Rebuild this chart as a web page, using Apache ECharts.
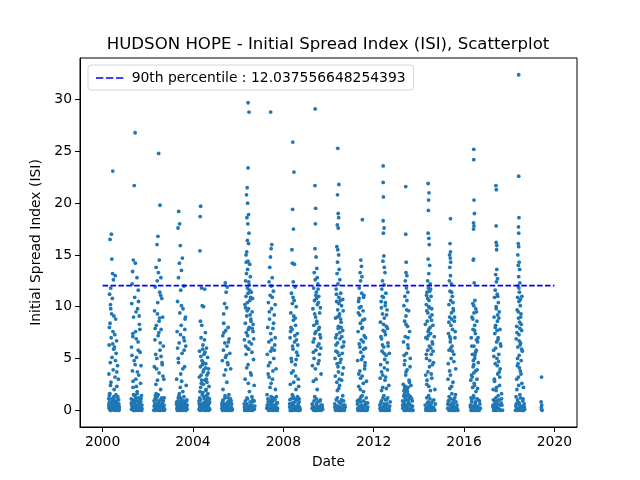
<!DOCTYPE html>
<html>
<head>
<meta charset="utf-8">
<script src="https://cdn.jsdelivr.net/npm/echarts@6/dist/echarts.min.js"></script>
<style>
  html, body { margin: 0; padding: 0; background: #fff; }
  #chart { width: 640px; height: 480px; }
</style>
</head>
<body>
<div id="chart"></div>
<script>
// ISI readings per fire season: [fraction of the year, ISI]
const y2000 = [[.45,23.1],[.39,17.0],[.33,16.5],[.41,14.6],[.44,13.2],[.56,13.0],[.48,12.6],[.36,11.8],[.31,11.2],[.43,10.8],[.35,10.2],[.40,9.3],[.50,9.1],[.58,8.8],[.30,8.0],[.46,7.6],[.54,7.3],[.38,7.0],[.62,6.7],[.29,6.3],[.49,5.9],[.60,5.5],[.42,5.1],[.34,4.6],[.66,4.3],[.47,3.9],[.28,3.5],[.55,3.2],[.70,3.0],[.37,2.7],[.63,2.3],[.51,2.0],[.32,1.6],[.67,1.3],[.27,1.1],[.44,0.9],[.57,0.7],[.72,0.6],[.35,0.5],[.52,0.4],[.74,0.3],[.29,0.2],[.61,0.1],[.40,0.05],[.68,0.0],[.53,0.0],[.31,0.8],[.71,1.0],[.46,0.3],[.64,0.2],[.59,1.5],[.36,9.8],[.53,6.1],[.28,0.6],[.38,0.0],[.49,1.2],[.65,0.5],[.33,0.1],[.42,0.4],[.73,0.1],[.56,0.9],[.30,1.4],
  [.28,0.4],[.34,0.0],[.37,0.7],[.41,1.1],[.44,0.2],[.47,0.6],[.50,1.3],[.54,0.3],[.58,0.0],[.62,0.8],[.66,1.2],[.69,0.4],[.72,0.0],[.31,1.6],[.39,0.3],[.52,0.9],[.60,0.5],[.35,2.4],[.57,4.8],[.45,6.4],[.33,8.4],[.63,3.7]];
const y2001 = [[.44,26.8],[.40,21.7],[.36,14.5],[.45,14.2],[.33,13.4],[.52,12.8],[.31,12.2],[.58,11.6],[.42,10.9],[.29,10.3],[.55,9.8],[.48,9.5],[.37,9.0],[.63,8.3],[.46,7.6],[.34,7.1],[.57,6.6],[.28,6.1],[.66,5.6],[.50,5.1],[.40,4.8],[.70,4.3],[.32,3.8],[.60,3.4],[.47,3.0],[.68,2.6],[.35,2.2],[.53,1.8],[.72,1.4],[.27,1.1],[.43,0.9],[.61,0.7],[.74,0.5],[.31,0.4],[.51,0.3],[.67,0.2],[.28,0.1],[.56,0.0],[.39,0.0],[.71,0.0],[.62,0.4],[.47,1.2],[.30,5.3],[.65,7.8],[.54,3.7],[.41,0.6],[.69,0.8],[.35,2.8],[.59,10.5],[.49,6.9],[.33,0.3],[.45,0.1],[.58,0.6],[.73,0.0],[.37,1.5],[.64,1.0],[.29,0.5],[.52,0.2],
  [.27,0.7],[.32,1.0],[.36,0.0],[.40,0.3],[.43,1.4],[.48,0.5],[.51,0.9],[.55,0.2],[.60,1.2],[.63,0.0],[.66,0.4],[.70,1.1],[.74,0.2],[.38,0.8],[.46,0.0],[.53,1.6],[.44,4.4],[.58,5.8],[.34,7.4],[.62,9.1],[.50,2.3]];
const y2002 = [[.48,24.8],[.54,19.8],[.45,16.8],[.41,16.0],[.51,14.5],[.37,13.8],[.47,13.3],[.58,12.8],[.42,12.5],[.33,11.9],[.53,11.4],[.62,10.8],[.44,10.4],[.30,9.6],[.66,9.0],[.50,8.6],[.38,8.2],[.59,7.8],[.46,7.2],[.32,6.8],[.69,6.2],[.54,5.8],[.40,5.0],[.63,4.6],[.29,4.2],[.50,3.6],[.71,3.0],[.36,2.5],[.57,2.0],[.46,1.5],[.73,1.2],[.28,0.9],[.64,0.7],[.41,0.5],[.52,0.3],[.33,0.2],[.74,0.1],[.68,0.0],[.47,0.0],[.27,0.0],[.60,0.4],[.38,1.0],[.55,6.5],[.43,9.3],[.67,3.3],[.49,7.5],[.35,5.4],[.72,0.5],[.57,11.1],[.39,4.0],[.31,0.6],[.44,0.2],[.61,1.1],[.50,0.1],[.70,0.3],[.34,1.4],[.56,0.0],
  [.28,0.4],[.32,1.1],[.35,0.0],[.39,0.6],[.42,1.3],[.45,0.3],[.49,0.8],[.53,0.0],[.58,0.5],[.62,1.2],[.65,0.2],[.69,0.9],[.73,0.0],[.37,1.6],[.47,0.6],[.55,1.0],[.43,2.9],[.59,5.2],[.33,7.9],[.52,8.9],[.64,4.4]];
const y2003 = [[.37,19.2],[.41,18.0],[.34,17.6],[.44,15.9],[.53,14.7],[.40,14.2],[.49,13.5],[.36,12.8],[.60,12.0],[.46,11.6],[.32,10.5],[.56,9.8],[.42,9.4],[.65,8.8],[.48,8.2],[.30,7.6],[.59,7.0],[.39,6.5],[.68,6.2],[.52,5.5],[.35,5.0],[.63,4.2],[.46,3.5],[.28,3.0],[.70,2.4],[.55,1.8],[.38,1.4],[.73,1.0],[.47,0.8],[.27,0.6],[.64,0.4],[.33,0.3],[.57,0.2],[.74,0.1],[.43,0.0],[.69,0.0],[.31,0.0],[.51,0.5],[.61,5.8],[.45,7.3],[.36,4.6],[.67,9.0],[.50,2.8],[.34,0.9],[.62,6.7],[.29,0.2],[.40,0.4],[.54,0.0],[.66,0.7],[.72,0.3],[.44,1.2],[.58,0.1],
  [.28,0.8],[.31,0.4],[.35,1.2],[.38,0.0],[.42,0.6],[.45,0.2],[.49,1.0],[.52,0.0],[.56,0.6],[.60,1.3],[.63,0.2],[.67,0.0],[.71,0.9],[.74,0.5],[.40,1.6],[.47,0.4],[.58,0.9],[.44,2.2],[.55,4.0],[.32,6.0],[.64,7.8],[.49,10.1]];
const y2004 = [[.34,19.7],[.32,18.7],[.31,15.4],[.38,11.8],[.52,11.7],[.41,10.1],[.47,10.0],[.33,8.6],[.39,8.2],[.55,7.5],[.36,7.0],[.44,6.3],[.60,6.0],[.29,5.7],[.49,5.4],[.65,5.1],[.40,4.8],[.57,4.5],[.33,4.2],[.69,4.0],[.45,3.7],[.62,3.4],[.28,3.2],[.53,2.9],[.37,2.6],[.71,2.3],[.58,2.0],[.31,1.8],[.66,1.6],[.48,1.3],[.73,1.1],[.27,0.9],[.55,0.8],[.38,0.6],[.68,0.5],[.50,0.4],[.30,0.3],[.61,0.2],[.74,0.1],[.35,0.0],[.54,0.0],[.70,0.0],[.43,5.9],[.59,3.0],[.34,2.2],[.63,1.0],[.51,6.8],[.42,4.4],[.30,1.2],[.67,3.6],[.57,0.6],[.27,0.1],[.46,2.5],[.72,0.7],[.39,0.2],[.64,0.3],[.32,0.5],[.49,0.0],[.60,1.4],[.44,1.7],[.56,4.1],[.36,3.4],
  [.28,0.6],[.31,0.0],[.34,1.0],[.37,0.4],[.41,1.5],[.44,0.1],[.47,0.7],[.51,1.1],[.54,0.3],[.58,0.9],[.61,0.0],[.64,0.6],[.67,1.2],[.71,0.2],[.74,0.8],[.39,2.9],[.48,3.9],[.53,5.6],[.62,2.7],[.45,4.6],[.35,5.2],[.57,1.9]];
const y2005 = [[.43,12.3],[.52,11.9],[.47,11.4],[.40,10.3],[.49,9.9],[.36,8.4],[.56,8.0],[.45,7.7],[.32,7.2],[.60,6.9],[.41,6.5],[.51,6.2],[.35,5.8],[.63,5.5],[.44,5.1],[.30,4.8],[.55,4.4],[.67,4.0],[.38,3.4],[.50,2.7],[.33,2.0],[.59,1.5],[.42,1.2],[.69,0.9],[.29,0.7],[.53,0.5],[.36,0.3],[.64,0.2],[.46,0.1],[.72,0.0],[.31,0.0],[.57,0.0],[.40,0.4],[.66,1.1],[.48,5.3],[.37,7.5],[.61,0.6],[.28,0.2],[.44,0.0],[.70,0.3],[.54,0.8],[.34,1.0],
  [.28,0.5],[.32,0.9],[.35,0.1],[.39,0.6],[.42,1.4],[.46,0.3],[.49,0.0],[.52,0.7],[.56,1.2],[.59,0.2],[.63,0.9],[.67,0.0],[.71,0.6],[.74,0.1],[.38,0.0],[.51,0.4],[.45,3.9],[.57,6.6],[.36,9.3],[.53,4.6]];
const y2006 = [[.44,29.7],[.48,28.8],[.44,23.4],[.40,21.5],[.37,20.8],[.42,20.0],[.46,18.9],[.39,18.6],[.43,18.0],[.48,17.1],[.41,16.4],[.46,16.1],[.38,15.3],[.35,15.0],[.44,14.4],[.36,14.3],[.51,14.1],[.42,13.6],[.37,13.2],[.54,12.9],[.33,12.5],[.49,12.1],[.41,11.8],[.58,11.4],[.35,11.0],[.52,10.6],[.30,10.2],[.46,9.8],[.62,9.5],[.38,9.1],[.56,8.8],[.32,8.4],[.49,8.0],[.66,7.6],[.42,7.2],[.28,6.8],[.59,6.4],[.47,5.9],[.35,5.4],[.68,4.9],[.44,4.4],[.55,3.6],[.31,3.0],[.71,2.4],[.50,1.8],[.39,1.2],[.63,0.8],[.34,0.5],[.53,0.3],[.72,0.1],[.43,0.0],[.29,0.0],[.60,0.0],[.40,9.6],[.51,11.6],[.45,7.8],[.64,10.8],[.33,6.2],[.57,8.6],[.41,10.4],[.69,6.9],[.47,12.4],[.37,0.2],[.74,0.4],[.27,0.6],[.65,1.0],[.48,0.1],[.56,0.5],[.31,0.2],[.61,5.6],[.36,7.5],[.53,9.2],
  [.28,0.3],[.32,0.9],[.35,0.0],[.39,0.6],[.42,1.1],[.46,0.4],[.50,0.0],[.53,0.8],[.57,0.2],[.61,1.3],[.64,0.0],[.67,0.4],[.71,0.9],[.45,2.6],[.58,3.4],[.38,4.1],[.49,6.6],[.62,7.9],[.33,9.9],[.55,10.9],[.44,11.3],[.66,8.3],[.41,6.0]];
const y2007 = [[.44,28.8],[.49,16.0],[.46,15.6],[.43,14.8],[.40,13.8],[.51,12.8],[.37,12.4],[.47,12.0],[.56,11.5],[.42,11.1],[.34,10.4],[.48,9.8],[.60,9.2],[.39,8.8],[.31,8.0],[.54,7.9],[.44,7.4],[.64,7.0],[.36,6.6],[.50,6.0],[.29,5.4],[.58,5.0],[.41,4.6],[.68,4.0],[.33,3.5],[.52,3.0],[.46,2.6],[.65,2.0],[.28,1.5],[.55,1.2],[.38,0.9],[.71,0.7],[.47,0.5],[.31,0.3],[.61,0.2],[.40,0.1],[.73,0.0],[.50,0.0],[.35,0.0],[.66,0.4],[.44,5.7],[.57,8.4],[.37,3.2],[.48,1.0],[.62,6.3],[.27,0.2],[.42,0.6],[.53,0.1],[.69,1.3],[.33,0.8],[.59,0.0],[.74,0.2],
  [.29,0.5],[.32,1.1],[.36,0.2],[.39,0.0],[.43,0.7],[.46,1.3],[.49,0.3],[.52,0.8],[.56,0.0],[.60,0.5],[.63,1.0],[.67,0.3],[.71,0.0],[.74,0.7],[.41,2.2],[.54,3.8],[.34,4.3],[.60,5.8],[.47,6.8],[.38,9.5],[.64,10.2],[.51,10.9]];
const y2008 = [[.42,25.9],[.47,23.0],[.41,19.4],[.45,17.5],[.38,15.5],[.40,14.2],[.49,14.1],[.44,12.4],[.52,11.9],[.36,11.3],[.48,10.6],[.57,10.0],[.33,9.4],[.45,8.7],[.54,8.2],[.39,7.8],[.62,7.4],[.30,7.0],[.50,6.6],[.41,6.2],[.59,5.6],[.35,5.0],[.53,4.4],[.44,3.8],[.66,3.0],[.31,2.5],[.56,2.0],[.40,1.5],[.50,1.1],[.70,0.8],[.36,0.6],[.61,0.4],[.28,0.3],[.47,0.2],[.55,0.1],[.39,0.0],[.67,0.0],[.33,0.0],[.46,9.1],[.58,6.8],[.37,4.7],[.51,7.2],[.43,10.9],[.64,5.3],[.34,8.0],[.55,3.3],[.45,0.5],[.72,0.3],[.29,1.0],[.63,1.3],[.50,0.0],[.74,0.1],[.42,0.7],[.68,2.3],
  [.28,0.6],[.31,0.0],[.35,1.1],[.38,0.3],[.41,0.0],[.44,1.3],[.48,0.4],[.52,0.8],[.56,0.2],[.59,1.0],[.62,0.0],[.66,0.6],[.70,1.1],[.73,0.0],[.46,2.7],[.36,3.6],[.57,4.9],[.43,5.9],[.64,6.3],[.32,7.6],[.53,8.9],[.40,10.3]];
const y2009 = [[.41,29.1],[.40,21.7],[.43,19.5],[.42,18.0],[.40,15.6],[.45,14.8],[.48,13.7],[.37,13.3],[.50,12.8],[.41,12.6],[.53,12.2],[.34,11.8],[.46,11.4],[.57,11.0],[.38,10.6],[.51,10.2],[.31,9.8],[.61,9.4],[.43,9.0],[.48,8.6],[.35,8.2],[.56,7.8],[.40,7.4],[.65,7.0],[.32,6.6],[.52,6.2],[.44,5.8],[.60,5.4],[.36,5.0],[.54,4.5],[.42,4.0],[.67,3.5],[.33,2.8],[.50,2.0],[.39,1.3],[.63,0.9],[.46,0.6],[.30,0.4],[.55,0.2],[.70,0.1],[.41,0.0],[.49,0.0],[.35,0.0],[.59,8.0],[.47,10.8],[.37,6.9],[.64,9.9],[.44,7.6],[.54,11.7],[.29,4.3],[.58,6.4],[.72,0.3],[.28,0.2],[.66,0.5],[.52,0.1],
  [.28,0.6],[.32,0.1],[.36,0.9],[.39,0.3],[.43,0.0],[.46,1.1],[.50,0.4],[.53,0.8],[.57,0.0],[.61,0.3],[.64,1.0],[.68,0.0],[.72,0.5],[.74,0.1],[.45,3.0],[.58,4.8],[.33,5.6],[.62,7.3],[.48,8.4],[.39,9.3],[.55,10.4],[.44,11.1],[.66,6.0]];
const y2010 = [[.41,25.3],[.46,21.8],[.40,20.8],[.43,19.0],[.45,18.6],[.39,17.9],[.43,17.6],[.37,15.8],[.41,15.5],[.45,15.0],[.40,14.3],[.47,13.6],[.38,13.2],[.50,12.6],[.42,12.2],[.34,11.7],[.54,11.3],[.46,10.9],[.36,10.5],[.58,10.1],[.41,9.7],[.49,9.3],[.31,8.9],[.56,8.5],[.44,8.1],[.63,7.7],[.36,7.3],[.51,6.9],[.40,6.5],[.60,6.1],[.33,5.7],[.47,5.3],[.55,4.9],[.38,4.5],[.66,4.1],[.44,3.7],[.30,3.3],[.58,2.9],[.49,2.4],[.39,1.9],[.63,1.4],[.34,1.0],[.53,0.7],[.44,0.4],[.69,0.2],[.31,0.1],[.56,0.0],[.41,0.0],[.50,7.5],[.38,9.0],[.61,5.5],[.46,10.3],[.33,6.3],[.54,8.8],[.42,4.2],[.65,9.6],[.48,3.0],[.35,11.2],[.59,7.1],[.28,0.3],[.72,0.5],[.47,0.0],[.62,0.1],[.29,5.0],[.68,6.6],[.52,10.6],
  [.28,0.6],[.32,0.0],[.35,0.4],[.39,1.2],[.42,0.2],[.46,0.8],[.50,0.0],[.53,0.3],[.57,1.0],[.60,0.0],[.64,0.5],[.67,0.9],[.70,0.0],[.74,0.3],[.45,2.1],[.37,2.7],[.61,3.5],[.51,4.6],[.40,5.6],[.66,6.2],[.32,7.0],[.55,8.0],[.47,9.1],[.63,10.7],[.43,7.9]];
const y2011 = [[.50,18.4],[.43,14.5],[.46,13.9],[.40,13.3],[.48,12.9],[.42,12.5],[.36,11.8],[.47,11.3],[.55,10.9],[.33,10.5],[.44,10.0],[.53,9.6],[.38,9.2],[.60,8.8],[.41,8.4],[.50,8.0],[.31,7.6],[.58,7.2],[.45,6.8],[.36,6.4],[.64,6.0],[.43,5.6],[.53,5.2],[.29,4.8],[.61,4.3],[.39,3.8],[.49,3.3],[.68,2.8],[.34,2.3],[.55,1.8],[.44,1.3],[.28,0.9],[.63,0.6],[.39,0.4],[.52,0.2],[.71,0.1],[.33,0.0],[.46,0.0],[.58,0.0],[.37,9.9],[.48,7.9],[.56,5.9],[.42,3.1],[.35,10.8],[.54,6.6],[.40,1.1],[.62,4.6],[.74,0.3],[.30,0.2],[.66,0.7],[.48,0.5],
  [.28,0.6],[.31,0.0],[.35,1.0],[.38,0.3],[.42,0.8],[.45,0.0],[.49,1.4],[.52,0.3],[.56,0.9],[.59,0.0],[.63,0.4],[.67,1.2],[.70,0.0],[.73,0.7],[.41,2.0],[.54,2.6],[.34,3.5],[.60,4.0],[.47,4.9],[.39,6.1],[.64,7.0],[.51,8.7],[.32,9.4],[.57,11.1]];
const y2012 = [[.42,23.6],[.42,22.0],[.43,20.6],[.42,18.3],[.46,17.6],[.43,17.1],[.45,14.9],[.41,14.4],[.47,13.8],[.50,13.3],[.39,12.5],[.46,12.1],[.36,11.7],[.54,11.3],[.43,10.9],[.33,10.5],[.51,10.1],[.59,9.7],[.39,9.3],[.47,8.9],[.30,8.5],[.56,8.1],[.42,7.7],[.52,7.3],[.35,6.9],[.63,6.5],[.45,6.1],[.37,5.7],[.55,5.3],[.49,4.9],[.31,4.4],[.61,3.9],[.40,3.4],[.50,2.9],[.67,2.4],[.35,1.9],[.45,1.4],[.57,1.0],[.32,0.7],[.53,0.5],[.42,0.3],[.65,0.1],[.36,0.0],[.48,0.0],[.60,0.0],[.44,8.3],[.52,10.4],[.39,6.3],[.61,7.9],[.47,4.1],[.34,9.9],[.56,2.1],[.28,0.2],[.71,0.4],[.69,5.5],[.29,3.1],[.46,0.6],[.58,0.2],
  [.27,0.5],[.31,0.0],[.34,0.9],[.38,0.3],[.41,1.2],[.45,0.0],[.48,0.4],[.51,1.0],[.55,0.0],[.59,0.6],[.62,1.2],[.66,0.2],[.69,0.0],[.73,0.8],[.40,2.2],[.53,3.2],[.35,3.7],[.60,4.6],[.46,5.5],[.64,6.2],[.32,7.1],[.49,7.6],[.57,9.2],[.38,11.0]];
const y2013 = [[.42,21.6],[.42,17.0],[.44,14.3],[.43,13.3],[.47,13.0],[.40,12.5],[.45,11.8],[.51,11.4],[.38,11.0],[.47,10.6],[.34,10.1],[.55,9.6],[.43,9.1],[.37,8.6],[.50,8.1],[.59,7.6],[.40,7.1],[.32,6.6],[.53,6.0],[.45,5.5],[.62,5.0],[.36,4.4],[.48,3.9],[.42,3.4],[.57,2.9],[.31,2.5],[.52,2.2],[.44,1.9],[.37,1.6],[.63,1.3],[.49,1.0],[.33,0.8],[.58,0.6],[.41,0.4],[.68,0.3],[.29,0.2],[.50,0.1],[.45,0.0],[.60,0.0],[.35,0.0],[.47,2.0],[.39,1.2],[.55,0.7],[.43,8.3],[.51,6.3],[.38,4.8],[.65,2.4],[.28,0.5],[.71,0.9],[.54,1.5],[.34,1.9],[.61,0.1],[.46,0.3],[.70,0.0],[.40,2.3],[.57,1.1],
  [.28,0.9],[.31,0.3],[.33,1.4],[.36,0.6],[.39,0.0],[.42,1.0],[.44,0.5],[.47,1.4],[.50,0.3],[.53,0.8],[.56,0.0],[.59,1.2],[.62,0.5],[.65,0.0],[.68,1.1],[.72,0.4],[.74,0.0],[.37,2.2],[.49,1.8],[.58,2.7],[.43,3.7],[.61,4.2],[.35,5.3],[.52,7.0],[.46,9.7]];
const y2014 = [[.41,21.9],[.45,21.0],[.43,20.3],[.42,19.3],[.41,17.1],[.44,16.6],[.46,16.0],[.41,14.6],[.48,14.0],[.44,13.2],[.39,12.5],[.50,12.2],[.42,11.8],[.36,11.4],[.54,11.0],[.45,10.6],[.33,10.2],[.57,9.8],[.40,9.4],[.49,9.0],[.37,8.6],[.62,8.2],[.44,7.8],[.52,7.4],[.31,7.0],[.59,6.6],[.46,6.2],[.39,5.8],[.55,5.4],[.34,5.0],[.65,4.6],[.47,4.2],[.40,3.7],[.57,3.1],[.35,2.5],[.51,1.9],[.43,1.4],[.66,1.0],[.38,0.7],[.53,0.4],[.32,0.2],[.61,0.1],[.46,0.0],[.40,0.0],[.55,0.0],[.44,10.0],[.50,8.0],[.37,6.9],[.58,9.2],[.42,7.2],[.63,5.7],[.48,11.5],[.35,9.6],[.53,6.0],[.39,10.8],[.60,4.4],[.29,8.3],[.68,7.1],[.30,3.4],[.71,2.0],[.47,0.5],[.64,0.3],
  [.28,0.5],[.31,0.0],[.35,1.2],[.38,0.3],[.42,0.8],[.45,0.0],[.49,1.1],[.52,0.3],[.56,0.7],[.59,0.0],[.62,0.9],[.66,0.2],[.70,0.0],[.73,0.6],[.44,2.3],[.36,2.9],[.55,3.5],[.48,4.8],[.33,5.4],[.61,6.4],[.41,7.6],[.56,8.7],[.46,9.9],[.34,11.1],[.52,11.7]];
const y2015 = [[.40,18.5],[.38,16.1],[.40,15.3],[.36,15.0],[.39,14.7],[.41,14.3],[.37,13.8],[.40,13.0],[.35,12.5],[.44,12.2],[.38,11.5],[.48,11.0],[.41,10.6],[.33,10.2],[.52,9.8],[.44,9.4],[.36,9.0],[.57,8.6],[.42,8.2],[.49,7.8],[.31,7.4],[.60,7.0],[.39,6.6],[.47,6.2],[.34,5.8],[.55,5.4],[.43,5.0],[.30,4.5],[.63,4.0],[.40,3.4],[.51,2.7],[.37,2.1],[.46,1.6],[.59,1.2],[.32,0.9],[.53,0.6],[.42,0.4],[.66,0.2],[.38,0.1],[.48,0.0],[.35,0.0],[.57,0.0],[.45,8.8],[.37,7.1],[.51,10.4],[.41,6.0],[.58,9.0],[.29,3.0],[.50,0.3],[.28,0.6],[.69,0.5],[.62,1.5],[.34,1.3],
  [.28,0.2],[.31,0.9],[.34,0.0],[.37,0.5],[.41,1.1],[.44,0.2],[.47,0.7],[.51,0.0],[.54,1.0],[.58,0.3],[.61,0.0],[.64,0.8],[.68,0.2],[.72,0.0],[.45,2.3],[.36,3.8],[.55,4.7],[.48,5.7],[.40,6.9],[.61,7.6],[.33,8.5],[.53,9.6],[.45,11.4]];
const y2016 = [[.43,25.2],[.43,24.2],[.44,20.3],[.46,19.0],[.42,18.1],[.44,17.8],[.42,17.5],[.42,14.6],[.41,14.5],[.45,12.3],[.48,10.6],[.39,10.3],[.52,9.8],[.44,9.4],[.35,9.0],[.57,8.6],[.47,8.2],[.40,7.8],[.50,7.4],[.32,7.0],[.60,6.6],[.44,6.2],[.54,5.8],[.37,5.4],[.47,5.0],[.63,4.6],[.40,4.2],[.51,3.8],[.33,3.4],[.57,3.0],[.45,2.6],[.38,2.2],[.53,1.8],[.42,1.4],[.62,1.0],[.34,0.8],[.49,0.6],[.56,0.4],[.39,0.2],[.45,0.1],[.67,0.0],[.36,0.0],[.52,0.0],[.48,5.3],[.43,3.6],[.55,6.8],[.30,2.9],[.50,0.5],[.41,4.8],[.28,0.3],[.70,0.6],[.60,2.1],[.31,1.2],
  [.28,0.5],[.31,0.0],[.34,1.0],[.38,0.4],[.41,0.0],[.44,1.2],[.47,0.2],[.51,0.8],[.54,0.0],[.58,1.1],[.61,0.3],[.64,0.0],[.68,0.9],[.72,0.2],[.46,2.4],[.36,3.2],[.58,3.9],[.43,4.4],[.51,5.6],[.34,6.2],[.62,7.0],[.47,7.7],[.39,8.8],[.55,9.5],[.43,10.1]];
const y2017 = [[.41,21.7],[.43,21.3],[.42,17.8],[.42,16.2],[.45,15.9],[.44,15.5],[.45,13.6],[.40,13.1],[.48,12.7],[.43,12.4],[.38,11.6],[.47,11.2],[.35,10.9],[.52,10.4],[.42,10.0],[.56,9.5],[.33,9.0],[.48,8.6],[.40,8.2],[.59,7.8],[.36,7.4],[.51,7.0],[.44,6.6],[.63,6.2],[.31,5.8],[.54,5.4],[.46,5.0],[.38,4.5],[.60,4.0],[.49,3.5],[.34,3.0],[.57,2.4],[.42,1.9],[.51,1.4],[.30,1.0],[.64,0.7],[.45,0.4],[.37,0.2],[.55,0.1],[.43,0.0],[.60,0.0],[.33,0.0],[.49,9.2],[.40,6.0],[.53,4.7],[.46,7.7],[.58,3.2],[.36,0.6],[.28,0.3],[.68,0.5],[.66,1.6],[.29,2.0],[.47,0.9],
  [.28,0.5],[.31,0.0],[.35,0.9],[.38,0.2],[.41,1.2],[.45,0.0],[.48,0.6],[.52,0.2],[.55,1.0],[.59,0.0],[.62,0.5],[.66,1.1],[.70,0.0],[.44,2.2],[.35,2.8],[.56,3.7],[.47,4.3],[.32,5.2],[.61,6.4],[.50,6.8],[.38,8.0],[.54,8.9],[.43,9.8],[.49,11.0]];
const y2018 = [[.42,32.4],[.42,22.6],[.43,18.6],[.41,17.7],[.42,17.1],[.40,16.1],[.42,15.8],[.38,15.0],[.44,14.3],[.40,14.0],[.46,13.6],[.42,12.9],[.47,12.3],[.39,12.0],[.45,11.4],[.37,10.9],[.43,10.5],[.49,10.1],[.35,9.7],[.52,9.3],[.41,8.9],[.46,8.5],[.33,8.1],[.55,7.7],[.43,7.3],[.31,6.9],[.50,6.5],[.38,6.1],[.58,5.7],[.44,5.3],[.53,4.8],[.36,4.3],[.49,3.8],[.41,3.2],[.56,2.6],[.34,2.0],[.47,1.5],[.61,1.1],[.38,0.8],[.45,0.5],[.54,0.3],[.40,0.1],[.48,0.0],[.59,0.0],[.35,0.0],[.51,9.0],[.44,6.7],[.56,11.0],[.39,4.5],[.47,7.9],[.29,0.4],[.66,0.6],[.63,2.2],[.30,1.3],[.68,0.1],
  [.28,0.0],[.31,0.6],[.34,0.2],[.37,1.0],[.41,0.0],[.44,0.7],[.47,0.2],[.50,1.2],[.53,0.0],[.57,0.4],[.60,0.9],[.64,0.0],[.67,0.3],[.42,2.4],[.33,3.0],[.52,3.5],[.45,4.1],[.37,5.0],[.55,5.9],[.48,6.3],[.34,7.5],[.53,8.3],[.40,9.5],[.49,10.7],[.43,11.8]];
const y2019 = [[.43,3.2],[.41,0.8],[.44,0.5],[.42,0.3],[.43,0.1],[.45,0.0]];

const seasons = [
  [2000, y2000], [2001, y2001], [2002, y2002], [2003, y2003], [2004, y2004],
  [2005, y2005], [2006, y2006], [2007, y2007], [2008, y2008], [2009, y2009],
  [2010, y2010], [2011, y2011], [2012, y2012], [2013, y2013], [2014, y2014],
  [2015, y2015], [2016, y2016], [2017, y2017], [2018, y2018], [2019, y2019]
];

const p90 = 12.037556648254393;
const p90Span = [2000, 2020];
const xTicks = [2000, 2004, 2008, 2012, 2016, 2020];
const yTicks = [0, 5, 10, 15, 20, 25, 30];

const points = [];
seasons.forEach(([yr, arr]) => arr.forEach(([f, v]) => points.push([yr + f, v])));

const font = 'DejaVu Sans';
const p90Name = '90th percentile : ' + p90;
const chart = echarts.init(document.getElementById('chart'));
chart.setOption({
  animation: false,
  title: {
    text: 'HUDSON HOPE - Initial Spread Index (ISI), Scatterplot',
    left: 323,
    textAlign: 'center',
    top: 31,
    textStyle: { fontFamily: font, fontWeight: 'normal', fontSize: 16.6, color: '#000' }
  },
  grid: {
    left: 80, right: 63, top: 58, bottom: 53,
    show: true, borderColor: '#000', borderWidth: 1, backgroundColor: '#fff'
  },
  legend: {
    left: 88, top: 65,
    padding: [6, 8, 5, 8],
    borderColor: '#d5d5d5', borderWidth: 1, borderRadius: 3,
    backgroundColor: 'rgba(255,255,255,0.8)',
    itemWidth: 28, itemHeight: 1.7, itemGap: 10,
    textStyle: { fontFamily: font, fontSize: 13.9, color: '#000', padding: [0, 0, 0, 3] },
    data: [{
      name: p90Name,
      icon: 'path://M0,0h7.3v1.7h-7.3z M10,0h7.3v1.7h-7.3z M20,0h7.3v1.7h-7.3z',
      itemStyle: { color: '#0000ff' }
    }]
  },
  xAxis: {
    type: 'value',
    min: 1999, max: 2021,
    name: 'Date', nameLocation: 'middle', nameGap: 28,
    nameTextStyle: { fontFamily: font, fontSize: 13.9, color: '#000' },
    axisLine: { onZero: false, lineStyle: { color: '#000', width: 1 } },
    axisTick: { show: true, length: 5, lineStyle: { color: '#000' }, customValues: xTicks },
    axisLabel: { fontFamily: font, fontSize: 13.9, color: '#000', margin: 8, customValues: xTicks, formatter: v => String(v) },
    splitLine: { show: false }
  },
  yAxis: {
    type: 'value',
    min: -1.62, max: 34.02,
    name: 'Initial Spread Index (ISI)', nameLocation: 'middle', nameGap: 34,
    nameTextStyle: { fontFamily: font, fontSize: 13.9, color: '#000' },
    axisLine: { show: true, onZero: false, lineStyle: { color: '#000', width: 1 } },
    axisTick: { show: true, length: 5, lineStyle: { color: '#000' }, customValues: yTicks },
    axisLabel: { fontFamily: font, fontSize: 13.9, color: '#000', margin: 8, customValues: yTicks, formatter: v => String(v) },
    splitLine: { show: false }
  },
  series: [
    {
      type: 'scatter',
      name: 'ISI',
      data: points,
      symbolSize: 3.8,
      itemStyle: { color: '#1f77b4', opacity: 1 },
      z: 2
    },
    {
      type: 'line',
      name: p90Name,
      data: p90Span.map(x => [x, p90]),
      symbol: 'none',
      lineStyle: { color: '#0000ff', width: 1.6, type: [5.5, 2.4] },
      itemStyle: { color: '#0000ff' },
      z: 3
    }
  ]
});
</script>
</body>
</html>
